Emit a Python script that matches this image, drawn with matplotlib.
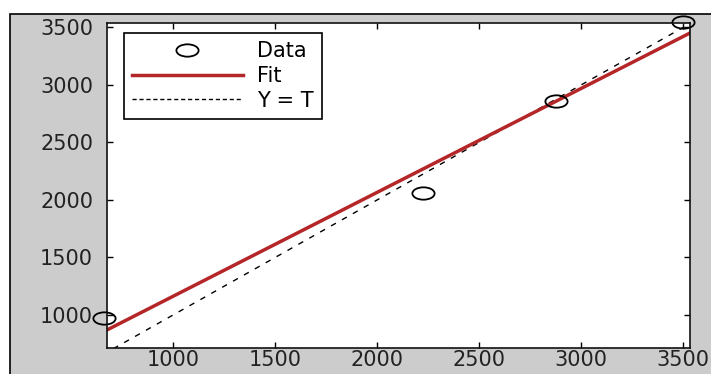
import matplotlib
matplotlib.use("Agg")
import matplotlib.pyplot as plt
from matplotlib.lines import Line2D
from matplotlib.patches import Rectangle
from matplotlib.path import Path
from matplotlib.transforms import Affine2D

# values
target = [660, 2225, 2877, 3500]
output = [975, 2061, 2861, 3545]
fit_x = [676, 3534]
fit_y = [870, 3452]
identity = [600, 3600]
ticks = [1000, 1500, 2000, 2500, 3000, 3500]
labels = ["Data", "Fit", "Y = T"]

red = "#b52628"
gray = "#cccccc"
plt.rcParams["font.family"] = ["DejaVu Sans"]

# the source picture is stretched sideways, so the circles are ellipses
ellipse = Path.unit_circle().transformed(Affine2D().scale(1.8, 1.0))

fig = plt.figure(figsize=(7.11, 3.74), dpi=100, facecolor="white")
# grey window area with the black border line on top and left
fig.patches.append(Rectangle((10 / 711, -0.1), 1.1, 1 - 14 / 374 + 0.1,
                             transform=fig.transFigure, facecolor=gray,
                             edgecolor="black", linewidth=1.2, zorder=-10))

ax = fig.add_axes([107 / 711, 26 / 374, 583 / 711, 325 / 374])
ax.set_facecolor("white")

ax.plot(identity, identity, color="black", linewidth=1, linestyle=(0, (4, 5)))
ax.plot(fit_x, fit_y, color=red, linewidth=2.5)
ax.plot(target, output, linestyle="none", marker=ellipse, markersize=16,
        markerfacecolor="none", markeredgecolor="black", markeredgewidth=1.3,
        clip_on=False)

ax.set_xlim(676, 3534)
ax.set_ylim(713, 3539)
ax.set_xticks(ticks)
ax.set_yticks(ticks)
ax.tick_params(direction="in", length=4, width=1, top=True, right=True,
               labelsize=15, labelcolor="#222222")
ax.tick_params(axis="y", pad=10)
ax.tick_params(axis="x", pad=1.5)
for s in ax.spines.values():
    s.set_linewidth(1.2)
    s.set_color("#111111")

handles = [
    Line2D([], [], linestyle="none", marker=ellipse, markersize=16,
           markerfacecolor="none", markeredgecolor="black", markeredgewidth=1.3),
    Line2D([], [], color=red, linewidth=2.5),
    Line2D([], [], color="black", linewidth=1, linestyle=(0, (3, 2))),
]
leg = ax.legend(handles, labels, loc="upper left", bbox_to_anchor=(0.029, 0.969),
                borderaxespad=0, fontsize=15, handlelength=5.3, handletextpad=0.7,
                labelspacing=0.22, borderpad=0.4, fancybox=False, framealpha=1,
                edgecolor="black")
leg.get_frame().set_linewidth(1.2)

fig.savefig("out.png", dpi=100, facecolor=fig.get_facecolor())
